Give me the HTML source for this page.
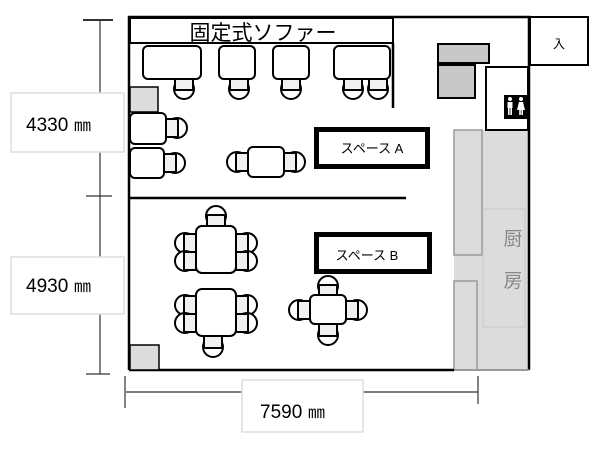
<!DOCTYPE html>
<html><head><meta charset="utf-8"><style>
html,body{margin:0;padding:0;background:#fff;}
svg{display:block;}
text{font-family:"Liberation Sans","Noto Sans CJK JP",sans-serif;}
</style></head><body>
<svg width="600" height="450" viewBox="0 0 600 450" xmlns="http://www.w3.org/2000/svg">
<defs>
<g id="ch">
<circle cx="0" cy="-11" r="10" fill="#fff" stroke="#000" stroke-width="2"/>
<rect x="-9" y="-12" width="18" height="12" fill="#f0f0f0" stroke="#000" stroke-width="2"/>
<line x1="-9" y1="-12" x2="9" y2="-12" stroke="#000" stroke-width="2"/>
</g>
</defs>
<rect x="454" y="130" width="75" height="240" fill="#dcdcdc"/>
<rect x="454" y="130" width="28" height="125" fill="#dcdcdc" stroke="#999" stroke-width="1.5"/>
<rect x="454" y="281" width="23" height="89" fill="#dcdcdc" stroke="#999" stroke-width="1.5"/>
<rect x="483" y="209" width="42" height="118" fill="#dcdcdc" stroke="#c8c8c8" stroke-width="1"/>
<text x="513" y="245" font-size="19" fill="#888" text-anchor="middle">厨</text>
<text x="513" y="287" font-size="19" fill="#888" text-anchor="middle">房</text>
<path d="M129 370 V17 H529 V370" fill="none" stroke="#000" stroke-width="2.5"/>
<line x1="129" y1="370" x2="454" y2="370" stroke="#000" stroke-width="2.5"/>
<line x1="454" y1="370" x2="529" y2="370" stroke="#999" stroke-width="2"/>
<rect x="530" y="17" width="58" height="48" fill="#fff" stroke="#000" stroke-width="2"/>
<text x="559" y="48" font-size="12" text-anchor="middle">入</text>
<rect x="486" y="67" width="42" height="63" fill="#fff" stroke="#000" stroke-width="2"/>
<rect x="504" y="95" width="24" height="24" fill="#000"/>
<g fill="#fff">
<circle cx="510" cy="99" r="2"/><rect x="507.5" y="102" width="5" height="6"/><rect x="508" y="108" width="1.6" height="7"/><rect x="510.4" y="108" width="1.6" height="7"/>
<circle cx="521" cy="99" r="2"/><path d="M519 102 H523 L525 110 H517 Z"/><rect x="519.2" y="110" width="1.6" height="5"/><rect x="521.4" y="110" width="1.6" height="5"/>
</g>
<rect x="438" y="44" width="51" height="19" fill="#c8c8c8" stroke="#000" stroke-width="2"/>
<rect x="438" y="65" width="37" height="33" fill="#c8c8c8" stroke="#000" stroke-width="2"/>
<rect x="130" y="18" width="263" height="25" fill="#fff" stroke="#000" stroke-width="2"/>
<text x="263" y="40" font-size="21" text-anchor="middle">固定式ソファー</text>
<line x1="393" y1="43" x2="393" y2="108" stroke="#000" stroke-width="2.5"/>
<line x1="129" y1="198" x2="406" y2="198" stroke="#000" stroke-width="2.5"/>
<g transform="translate(184,78) rotate(180)"><use href="#ch"/></g>
<g transform="translate(239,78) rotate(180)"><use href="#ch"/></g>
<g transform="translate(291,78) rotate(180)"><use href="#ch"/></g>
<g transform="translate(353,78) rotate(180)"><use href="#ch"/></g>
<g transform="translate(378,78) rotate(180)"><use href="#ch"/></g>
<rect x="143" y="46" width="58" height="33" rx="5" fill="#fff" stroke="#000" stroke-width="2"/>
<rect x="219" y="46" width="36" height="33" rx="5" fill="#fff" stroke="#000" stroke-width="2"/>
<rect x="273" y="46" width="36" height="33" rx="5" fill="#fff" stroke="#000" stroke-width="2"/>
<rect x="334" y="46" width="56" height="33" rx="5" fill="#fff" stroke="#000" stroke-width="2"/>
<rect x="130" y="87" width="28" height="25" fill="#dcdcdc" stroke="#000" stroke-width="1.5"/>
<g transform="translate(166,128) rotate(90)"><use href="#ch"/></g>
<g transform="translate(164,163) rotate(90)"><use href="#ch"/></g>
<rect x="130" y="113" width="36" height="31" rx="5" fill="#fff" stroke="#000" stroke-width="2"/>
<rect x="130" y="148" width="34" height="30" rx="5" fill="#fff" stroke="#000" stroke-width="2"/>
<g transform="translate(248,162) rotate(-90)"><use href="#ch"/></g>
<g transform="translate(284,162) rotate(90)"><use href="#ch"/></g>
<rect x="248" y="147" width="36" height="30" rx="5" fill="#fff" stroke="#000" stroke-width="2"/>
<rect x="316.5" y="129.5" width="111" height="37" fill="#fff" stroke="#000" stroke-width="5"/>
<text x="372" y="153" font-size="13" text-anchor="middle">スペース A</text>
<g transform="translate(216,227)"><use href="#ch"/></g>
<g transform="translate(196,243) rotate(-90)"><use href="#ch"/></g>
<g transform="translate(196,261) rotate(-90)"><use href="#ch"/></g>
<g transform="translate(236,243) rotate(90)"><use href="#ch"/></g>
<g transform="translate(236,261) rotate(90)"><use href="#ch"/></g>
<rect x="196" y="226" width="40" height="47" rx="6" fill="#fff" stroke="#000" stroke-width="2"/>
<g transform="translate(213,336) rotate(180)"><use href="#ch"/></g>
<g transform="translate(196,305) rotate(-90)"><use href="#ch"/></g>
<g transform="translate(196,323) rotate(-90)"><use href="#ch"/></g>
<g transform="translate(236,305) rotate(90)"><use href="#ch"/></g>
<g transform="translate(236,323) rotate(90)"><use href="#ch"/></g>
<rect x="196" y="289" width="40" height="47" rx="6" fill="#fff" stroke="#000" stroke-width="2"/>
<rect x="316.5" y="234.5" width="113" height="37" fill="#fff" stroke="#000" stroke-width="5"/>
<text x="367" y="260" font-size="13" text-anchor="middle">スペース B</text>
<g transform="translate(328,297)"><use href="#ch"/></g>
<g transform="translate(328,324) rotate(180)"><use href="#ch"/></g>
<g transform="translate(310,310) rotate(-90)"><use href="#ch"/></g>
<g transform="translate(346,310) rotate(90)"><use href="#ch"/></g>
<rect x="310" y="295" width="36" height="29" rx="5" fill="#fff" stroke="#000" stroke-width="2"/>
<rect x="130" y="345" width="29" height="25" fill="#dcdcdc" stroke="#000" stroke-width="1.5"/>
<g stroke="#333" stroke-width="1.2">
<line x1="100" y1="20" x2="100" y2="374"/>
<line x1="83" y1="20" x2="113" y2="20" stroke-width="2"/>
<line x1="86" y1="196" x2="112" y2="196"/>
<line x1="86" y1="374" x2="110" y2="374"/>
<line x1="126" y1="392" x2="478" y2="392"/>
<line x1="125" y1="376" x2="125" y2="408"/>
<line x1="478" y1="376" x2="478" y2="404"/>
</g>
<rect x="11" y="93" width="113" height="59" fill="#fff" stroke="#ddd" stroke-width="1.5"/>
<text x="26" y="131" font-size="19">4330</text><text x="74" y="131" font-size="17" font-family="Noto Sans CJK JP, sans-serif">㎜</text>
<rect x="11" y="257" width="113" height="57" fill="#fff" stroke="#ddd" stroke-width="1.5"/>
<text x="26" y="292" font-size="19">4930</text><text x="74" y="292" font-size="17" font-family="Noto Sans CJK JP, sans-serif">㎜</text>
<rect x="242" y="380" width="121" height="52" fill="#fff" stroke="#ddd" stroke-width="1.5"/>
<text x="260" y="418" font-size="19">7590</text><text x="308" y="418" font-size="17" font-family="Noto Sans CJK JP, sans-serif">㎜</text>
</svg>
</body></html>
